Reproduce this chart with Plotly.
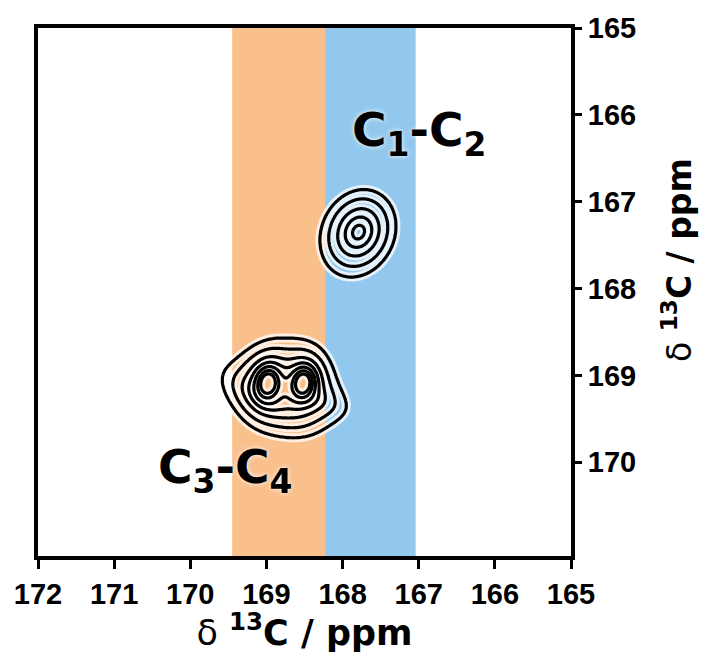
import numpy as np
import plotly.graph_objects as go

# Axis ticks (ppm) and visible ranges (both axes run high -> low)
x_ticks = [172, 171, 170, 169, 168, 167, 166, 165]
y_ticks = [165, 166, 167, 168, 169, 170]
x_range = [172, 165]
y_range = [171.08, 165]

# Highlighted chemical-shift windows along the direct dimension
band_lo = [169.45, 168.23]
band_hi = [168.23, 167.04]
band_color = ["#F9C08C", "#93C8EE"]

# Cross-peak components: centre (ppm), height, half-widths (ppm), tilt (deg), line shape
peak_x = [168.98, 168.52, 169.02, 168.48, 167.79]
peak_y = [169.09, 169.09, 169.26, 169.24, 167.35]
peak_amp = [28.0, 28.0, 1.6, 1.5, 6.3]
peak_wx = [0.063, 0.063, 0.41, 0.43, 0.25]
peak_wy = [0.075, 0.075, 0.17, 0.16, 0.29]
peak_tilt = [14, 14, 25, 15, 45]
peak_shape = ["lorentz", "lorentz", "lorentz", "lorentz", "exp"]

# Contour levels (arbitrary intensity units)
levels = [1.1, 1.6, 2.4, 3.4, 4.8, 7.0, 10.5, 15.5]

# Peak assignment labels
label_text = ["C<sub>1</sub>-C<sub>2</sub>", "C<sub>3</sub>-C<sub>4</sub>"]
label_x = [167.0, 169.54]
label_y = [166.21, 170.09]

# ---- 2D spectrum on a regular grid ----
gx = np.round(np.arange(166.6, 170.0001, 0.01), 3)
gy = np.round(np.arange(166.4, 170.2001, 0.01), 3)
X, Y = np.meshgrid(gx, gy)
Z = np.zeros_like(X)
for x0, y0, a, wx, wy, t, shp in zip(peak_x, peak_y, peak_amp, peak_wx, peak_wy,
                                     peak_tilt, peak_shape):
    th = np.radians(t)
    dx, dy = X - x0, Y - y0
    along = dx * np.sin(th) + dy * np.cos(th)
    across = dx * np.cos(th) - dy * np.sin(th)
    q = (across / wx) ** 2 + (along / wy) ** 2
    if shp == "exp":
        Z += a * np.exp(-np.sqrt(q))
    else:
        Z += a / (1.0 + q)

# map intensities onto level indices so uneven levels become unit-spaced contours
xp = [0.0] + levels + [1e6]
fp = list(range(-1, len(levels) + 1))
Zi = np.round(np.interp(Z, xp, fp), 3)

fig = go.Figure()

contour_common = dict(
    x=gx, y=gy, z=Zi,
    autocontour=False,
    contours=dict(start=0, end=len(levels) - 1, size=1, coloring="none"),
    line_smoothing=0.9,
    showscale=False,
    hoverinfo="skip",
)
# soft white halo under the contour lines
fig.add_trace(go.Contour(**contour_common, line=dict(color="rgba(255,255,255,0.75)", width=9)))
fig.add_trace(go.Contour(**contour_common, line=dict(color="black", width=3.2)))

# shaded windows
for lo, hi, col in zip(band_lo, band_hi, band_color):
    fig.add_shape(type="rect", xref="x", yref="paper", x0=lo, x1=hi, y0=0, y1=1,
                  fillcolor=col, line_width=0, layer="below")

label_font = dict(family="DejaVu Sans", size=47, color="black", weight="bold",
                  shadow="0px 0px 5px white")
for txt, lx, ly in zip(label_text, label_x, label_y):
    fig.add_annotation(x=lx, y=ly, xref="x", yref="y", text=txt, showarrow=False,
                       font=label_font, xanchor="center", yanchor="middle")

title_text = "δ <b><sup>13</sup>C / ppm</b>"

# vertical axis title on the right
fig.add_annotation(x=1.2, y=0.56, xref="paper", yref="paper", textangle=-90,
                   text=title_text, showarrow=False,
                   font=dict(family="DejaVu Sans", size=33, color="black"),
                   xanchor="center", yanchor="middle")

axis_common = dict(
    showline=True, linewidth=4, linecolor="black", mirror=True,
    ticks="outside", tickwidth=3, tickcolor="black",
    showgrid=False, zeroline=False,
    tickfont=dict(family="Liberation Sans, Arial", size=29, color="black", weight="bold"),
)
fig.update_xaxes(range=x_range, tickvals=x_ticks, ticklen=9, **axis_common,
                 title=dict(text=title_text, standoff=4,
                            font=dict(family="DejaVu Sans", size=35, color="black")))
fig.update_yaxes(range=y_range, tickvals=y_ticks, ticklen=7, side="right", **axis_common)

fig.update_layout(
    width=702, height=653,
    margin=dict(l=38, r=131, t=24, b=97),
    paper_bgcolor="white", plot_bgcolor="white",
    showlegend=False,
)

fig.write_html("out.html")
